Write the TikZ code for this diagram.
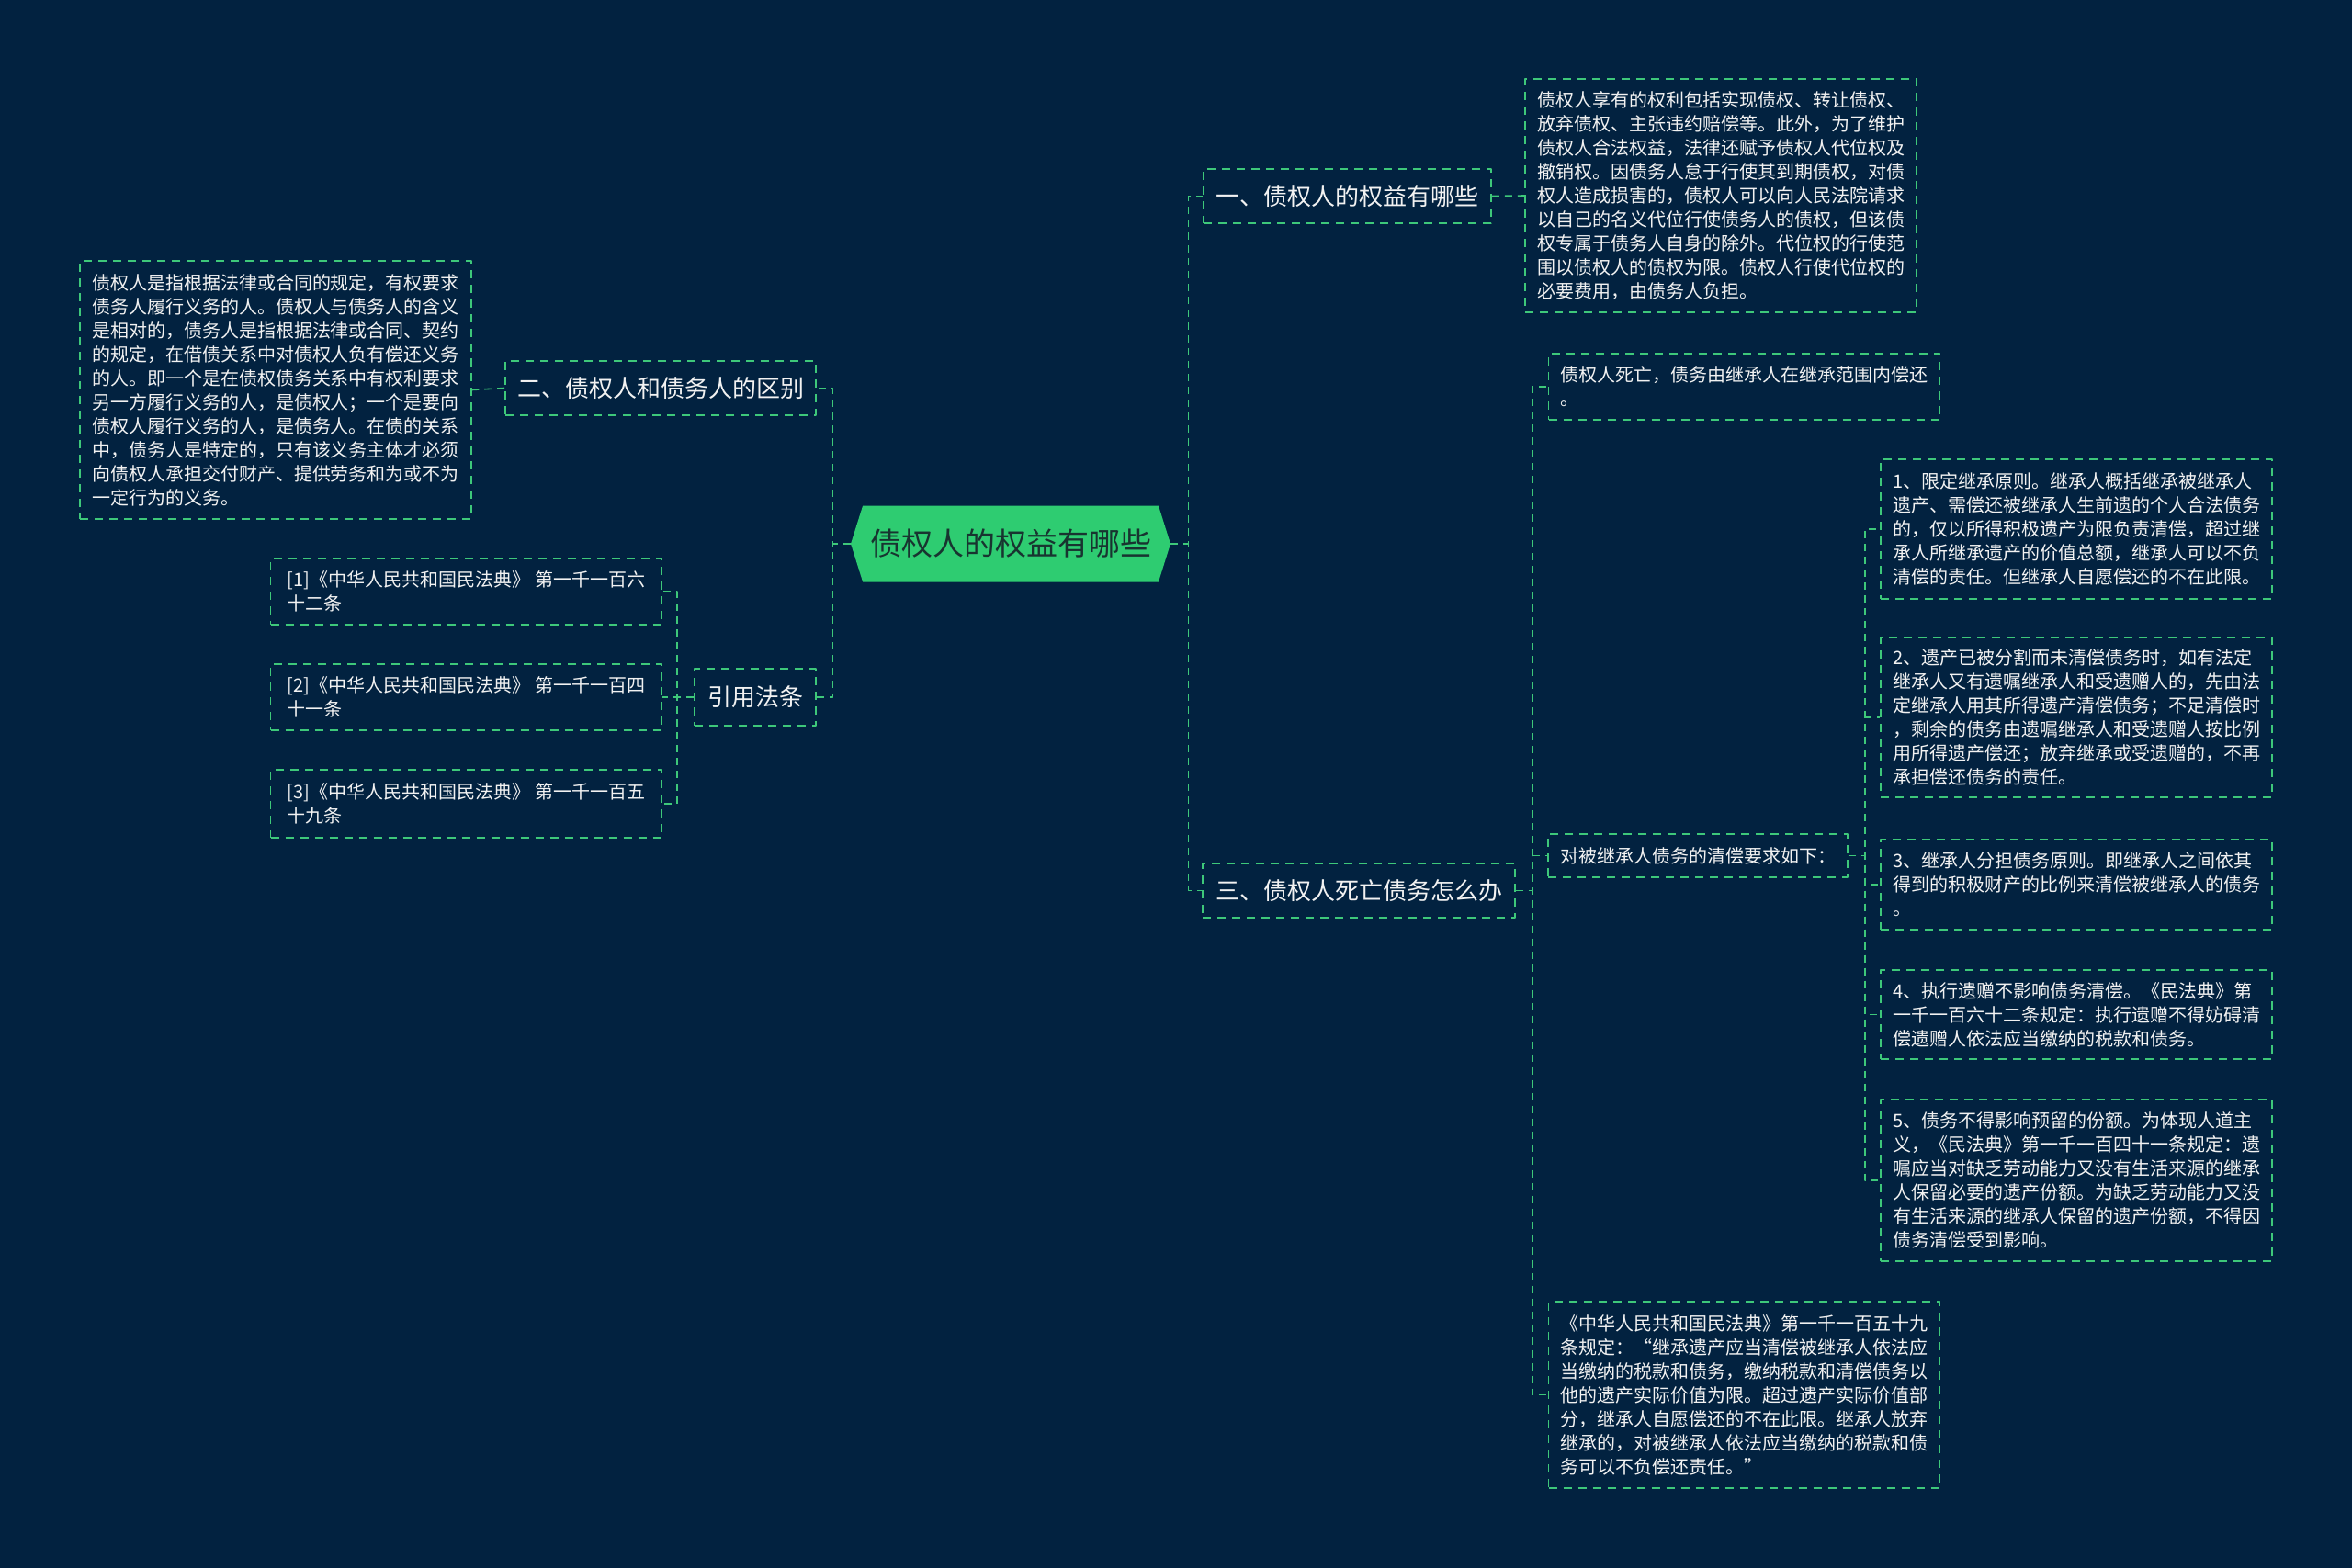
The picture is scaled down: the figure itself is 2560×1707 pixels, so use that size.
\documentclass[tikz,border=0pt]{standalone}
\usepackage{fontspec}
\setmainfont{Noto Sans CJK SC}
\usetikzlibrary{shapes.symbols}
\definecolor{bgnavy}{RGB}{2,34,64}
\definecolor{linegreen}{RGB}{62,200,122}
\definecolor{rootgreen}{RGB}{46,204,113}
\definecolor{roottext}{RGB}{24,52,48}
\definecolor{txtwhite}{RGB}{242,242,242}
\begin{document}
\begin{tikzpicture}[x=0.5pt, y=-0.5pt, line join=round,
    link/.style={linegreen, line width=0.8pt, dash pattern=on 4pt off 3pt},
    box/.style={draw=linegreen, line width=0.8pt, dash pattern=on 4.5pt off 3.5pt,
      text=txtwhite, inner sep=0pt, align=left},
    leaf/.style={box, minimum width=213pt, font=\fontsize{10}{13}\selectfont},
    branch/.style={box, font=\fontsize{13}{16}\selectfont},
    root/.style={signal, signal from=nowhere, signal to=east and west, signal pointer angle=145,
      fill=rootgreen, text=roottext, inner sep=0pt, font=\fontsize{17}{20}\selectfont}]
  \fill[bgnavy] (0,0) rectangle (2560,1707);
  \useasboundingbox (0,0) rectangle (2560,1707);

  \node[root, minimum width=174pt, minimum height=41.5pt] (root) at (1100,592) {债权人的权益有哪些};

  % right side
  \node[branch, minimum width=156.5pt, minimum height=29.5pt] (right1) at (1466.5,213.5) {一、债权人的权益有哪些};
  \node[leaf, minimum height=127pt] (right1a) at (1873,213) {债权人享有的权利包括实现债权、转让债权、\\放弃债权、主张违约赔偿等。此外，为了维护\\债权人合法权益，法律还赋予债权人代位权及\\撤销权。因债务人怠于行使其到期债权，对债\\权人造成损害的，债权人可以向人民法院请求\\以自己的名义代位行使债务人的债权，但该债\\权专属于债务人自身的除外。代位权的行使范\\围以债权人的债权为限。债权人行使代位权的\\必要费用，由债务人负担。};
  \node[branch, minimum width=170pt, minimum height=29.5pt] (right3) at (1479,969.5) {三、债权人死亡债务怎么办};
  \node[leaf, minimum height=36pt] (death) at (1898.5,421) {债权人死亡，债务由继承人在继承范围内偿还\\。};
  \node[box, minimum width=163pt, minimum height=23.5pt, font=\fontsize{10}{13}\selectfont] (rules) at (1848,931.5) {对被继承人债务的清偿要求如下：};
  \node[leaf, minimum height=101.5pt] (code) at (1898.5,1518.5) {《中华人民共和国民法典》第一千一百五十九\\条规定：“继承遗产应当清偿被继承人依法应\\当缴纳的税款和债务，缴纳税款和清偿债务以\\他的遗产实际价值为限。超过遗产实际价值部\\分，继承人自愿偿还的不在此限。继承人放弃\\继承的，对被继承人依法应当缴纳的税款和债\\务可以不负偿还责任。”};
  \node[leaf, minimum height=76pt] (rule1) at (2260,576) {1、限定继承原则。继承人概括继承被继承人\\遗产、需偿还被继承人生前遗的个人合法债务\\的，仅以所得积极遗产为限负责清偿，超过继\\承人所继承遗产的价值总额，继承人可以不负\\清偿的责任。但继承人自愿偿还的不在此限。};
  \node[leaf, minimum height=87pt] (rule2) at (2260,781) {2、遗产已被分割而未清偿债务时，如有法定\\继承人又有遗嘱继承人和受遗赠人的，先由法\\定继承人用其所得遗产清偿债务；不足清偿时\\，剩余的债务由遗嘱继承人和受遗赠人按比例\\用所得遗产偿还；放弃继承或受遗赠的，不再\\承担偿还债务的责任。};
  \node[leaf, minimum height=49pt] (rule3) at (2260,963) {3、继承人分担债务原则。即继承人之间依其\\得到的积极财产的比例来清偿被继承人的债务\\。};
  \node[leaf, minimum height=48.5pt] (rule4) at (2260,1104.5) {4、执行遗赠不影响债务清偿。《民法典》第\\一千一百六十二条规定：执行遗赠不得妨碍清\\偿遗赠人依法应当缴纳的税款和债务。};
  \node[leaf, minimum height=88pt] (rule5) at (2260,1285) {5、债务不得影响预留的份额。为体现人道主\\义，《民法典》第一千一百四十一条规定：遗\\嘱应当对缺乏劳动能力又没有生活来源的继承\\人保留必要的遗产份额。为缺乏劳动能力又没\\有生活来源的继承人保留的遗产份额，不得因\\债务清偿受到影响。};

  % left side
  \node[branch, minimum width=169pt, minimum height=29.5pt] (left2) at (719,422.5) {二、债权人和债务人的区别};
  \node[leaf, minimum height=140.5pt] (left2a) at (300,424.5) {债权人是指根据法律或合同的规定，有权要求\\债务人履行义务的人。债权人与债务人的含义\\是相对的，债务人是指根据法律或合同、契约\\的规定，在借债关系中对债权人负有偿还义务\\的人。即一个是在债权债务关系中有权利要求\\另一方履行义务的人，是债权人；一个是要向\\债权人履行义务的人，是债务人。在债的关系\\中，债务人是特定的，只有该义务主体才必须\\向债权人承担交付财产、提供劳务和为或不为\\一定行为的义务。};
  \node[branch, minimum width=66pt, minimum height=31pt] (laws) at (822,759) {引用法条};
  \node[leaf, minimum height=36pt] (law1) at (507.5,644) {[1]《中华人民共和国民法典》 第一千一百六\\十二条};
  \node[leaf, minimum height=36pt] (law2) at (507.5,759) {[2]《中华人民共和国民法典》 第一千一百四\\十一条};
  \node[leaf, minimum height=37pt] (law3) at (507.5,875) {[3]《中华人民共和国民法典》 第一千一百五\\十九条};

  \draw[link] (root.east) -- ++(19,0) |- (right1.west);
  \draw[link] (root.east) -- ++(19,0) |- (right3.west);
  \draw[link] (right1.east) -- (right1a.west);
  \draw[link] (right3.east) -- ++(18,0) |- (death.west);
  \draw[link] (right3.east) -- ++(18,0) |- (rules.west);
  \draw[link] (right3.east) -- ++(18,0) |- (code.west);
  \foreach \k in {1,...,5}
    \draw[link] (rules.east) -- ++(18,0) |- (rule\k.west);
  \draw[link] (root.west) -- ++(-19,0) |- (left2.east);
  \draw[link] (root.west) -- ++(-19,0) |- (laws.east);
  \draw[link] (left2.west) -- (left2a.east);
  \foreach \k in {1,2,3}
    \draw[link] (laws.west) -- ++(-18,0) |- (law\k.east);
\end{tikzpicture}
\end{document}
